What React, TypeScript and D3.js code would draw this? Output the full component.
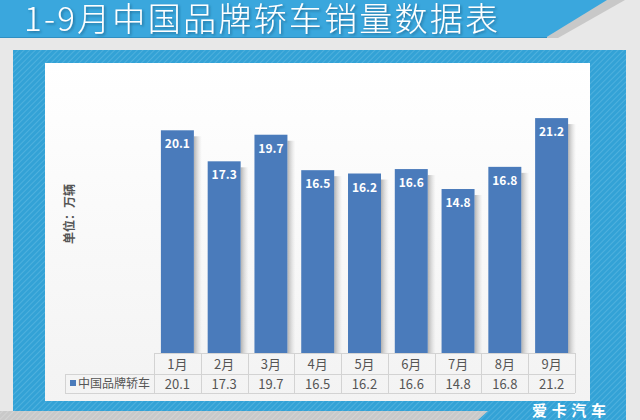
import * as d3 from 'd3';
import React from 'react';

const months = ['1月', '2月', '3月', '4月', '5月', '6月', '7月', '8月', '9月'];
const sales = [20.1, 17.3, 19.7, 16.5, 16.2, 16.6, 14.8, 16.8, 21.2];
const seriesName = '中国品牌轿车';
const title = '1-9月中国品牌轿车销量数据表';
const unitLabel = '单位：万辆';

const W = 640;
const H = 420;
const font = '"Noto Sans CJK SC", "Microsoft YaHei", sans-serif';
const barColor = '#4a7bbb';

const App: React.FC = () => {
  const x = d3.scaleBand<string>()
    .domain(months)
    .range([154, 575])
    .paddingInner(0.295)
    .paddingOuter(0.1475);

  const y = d3.scaleLinear().domain([0, 25]).range([353, 76]);

  const rowTop = 353;
  const rowMid = 374;
  const rowBot = 393;
  const legendLeft = 65;
  const step = x.step();
  const colEdges = months.map((_m, i) => 154 + i * step).concat([575]);

  return (
    <div style={{ position: 'fixed', left: 0, top: 0 }}>
      <svg width={W} height={H} style={{ display: 'block' }}>
        <defs>
          <pattern id="hatch" width="4" height="4" patternUnits="userSpaceOnUse" patternTransform="rotate(45)">
            <rect width="4" height="4" fill="#33a2d6" />
            <line x1="0" y1="0" x2="0" y2="4" stroke="#5ab6e0" strokeWidth="1.4" />
          </pattern>
          <pattern id="hatchGray" width="4" height="4" patternUnits="userSpaceOnUse" patternTransform="rotate(45)">
            <rect width="4" height="4" fill="#c9c9c9" />
            <line x1="0" y1="0" x2="0" y2="4" stroke="#d8d8d8" strokeWidth="1.4" />
          </pattern>
          <linearGradient id="plotBg" x1="0" y1="0" x2="0" y2="1">
            <stop offset="0" stopColor="#ffffff" />
            <stop offset="1" stopColor="#f3f3f3" />
          </linearGradient>
          <linearGradient id="shadow" x1="0" y1="0" x2="1" y2="0">
            <stop offset="0" stopColor="#9a9a9a" stopOpacity="0.75" />
            <stop offset="1" stopColor="#cccccc" stopOpacity="0" />
          </linearGradient>
          <filter id="tshadow" x="-5%" y="-20%" width="110%" height="150%">
            <feDropShadow dx="1.5" dy="1.5" stdDeviation="1" floodColor="#1d5f85" floodOpacity="0.7" />
          </filter>
        </defs>

        {/* page background */}
        <rect x={0} y={0} width={W} height={H} fill="#e8e8e8" />

        {/* title banner */}
        <polygon points="458,38 558,38 625,0 558,0" fill="#c8c8c8" />
        <polygon points="0,0 607,0 545,38 0,38" fill="#3aa7dd" />
        <line x1={0} y1={37.5} x2={547} y2={37.5} stroke="#2f8fc2" strokeWidth={1} />
        <text x={24} y={31} fill="#ffffff" fontFamily={font} fontWeight={300} fontSize={33}
          textLength={474} lengthAdjust="spacing" filter="url(#tshadow)">
          {title}
        </text>

        {/* hatched panel */}
        <rect x={13} y={50} width={613} height={370} fill="url(#hatch)" />

        {/* bottom gray band */}
        <polygon points="0,411 488,411 478,420 0,420" fill="url(#hatchGray)" />
        <text x={532} y={416} fill="#ffffff" fontFamily={font} fontWeight="bold" fontSize={15}
          textLength={74}>爱卡汽车</text>

        {/* plot area */}
        <rect x={45} y={63} width={545} height={338} fill="url(#plotBg)" />

        {/* bar shadows */}
        {months.map((m, i) => (
          <rect key={'s' + m} x={(x(m) as number) + x.bandwidth()} y={y(sales[i]) + 6}
            width={8} height={rowTop - y(sales[i]) - 6} fill="url(#shadow)" />
        ))}

        {/* bars */}
        {months.map((m, i) => (
          <rect key={m} x={x(m)} y={y(sales[i])} width={x.bandwidth()}
            height={rowTop - y(sales[i])} fill={barColor} />
        ))}

        {/* value labels */}
        {months.map((m, i) => (
          <text key={'v' + m} x={(x(m) as number) + x.bandwidth() / 2} y={y(sales[i]) + 18}
            textAnchor="middle" fill="#ffffff" fontFamily={font} fontWeight="bold" fontSize={12}>
            {sales[i].toFixed(1)}
          </text>
        ))}

        {/* unit label */}
        <text transform="translate(74,214) rotate(-90)" textAnchor="middle" fill="#555555"
          fontFamily={font} fontWeight="bold" fontSize={12}>
          {unitLabel}
        </text>

        {/* data table */}
        <g stroke="#d3d3d3" strokeWidth={1} fill="none">
          <line x1={154} y1={rowTop + 0.5} x2={575} y2={rowTop + 0.5} />
          <line x1={legendLeft} y1={rowMid + 0.5} x2={575} y2={rowMid + 0.5} />
          <line x1={legendLeft} y1={rowBot + 0.5} x2={575} y2={rowBot + 0.5} />
          <line x1={legendLeft + 0.5} y1={rowMid} x2={legendLeft + 0.5} y2={rowBot} />
          {colEdges.map((e, i) => (
            <line key={'c' + i} x1={Math.round(e) + 0.5} y1={rowTop} x2={Math.round(e) + 0.5} y2={rowBot} />
          ))}
        </g>
        {months.map((m) => (
          <text key={'m' + m} x={(x(m) as number) + x.bandwidth() / 2} y={rowTop + 16}
            textAnchor="middle" fill="#555555" fontFamily={font} fontSize={13}>
            {m}
          </text>
        ))}
        {months.map((m, i) => (
          <text key={'d' + m} x={(x(m) as number) + x.bandwidth() / 2} y={rowMid + 15}
            textAnchor="middle" fill="#555555" fontFamily={font} fontSize={13}>
            {sales[i].toFixed(1)}
          </text>
        ))}
        <rect x={70} y={380} width={6} height={6} fill={barColor} />
        <text x={78} y={rowMid + 14} fill="#555555" fontFamily={font} fontSize={12}>
          {seriesName}
        </text>
      </svg>
    </div>
  );
};

export default App;
